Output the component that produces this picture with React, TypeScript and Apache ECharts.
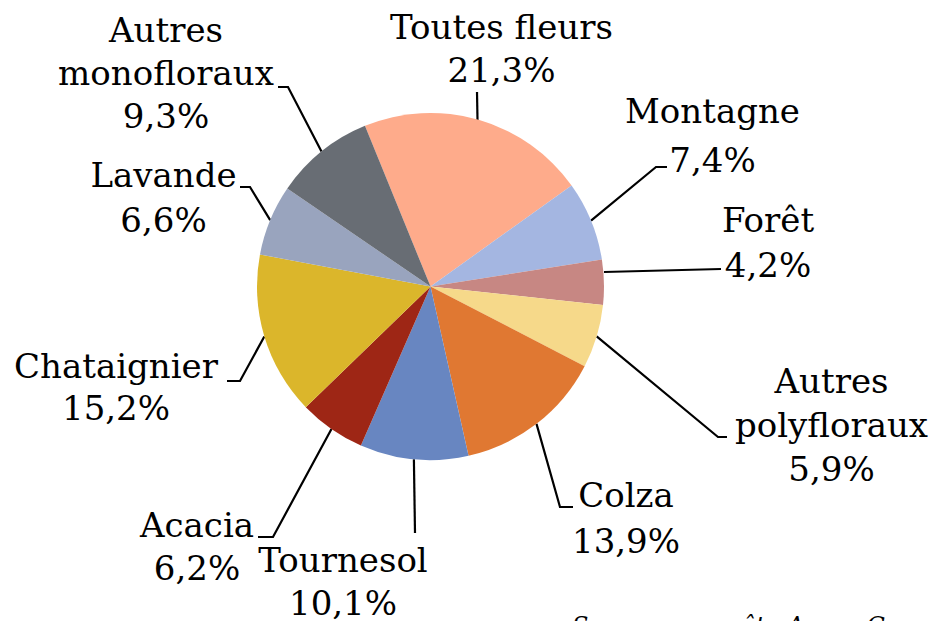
import React, { useEffect, useRef } from "react";
import * as echarts from "echarts";

// ---- Data ----
const categories = [
  "Toutes fleurs",
  "Montagne",
  "Forêt",
  "Autres polyfloraux",
  "Colza",
  "Tournesol",
  "Acacia",
  "Chataignier",
  "Lavande",
  "Autres monofloraux",
];
const shares = [21.3, 7.4, 4.2, 5.9, 13.9, 10.1, 6.2, 15.2, 6.6, 9.3];
const sliceColors = [
  "#FEAB8B",
  "#A4B6E1",
  "#C78783",
  "#F6D98A",
  "#E07832",
  "#6886C1",
  "#9E2615",
  "#DBB62B",
  "#99A4BE",
  "#686D74",
];
const sourceText = "Source : enquête Agrex Consulting";

// ---- Layout (label block centres, leader-line elbows) ----
const labelCenters: number[][] = [
  [501.5, 48.5],
  [712.5, 135.5],
  [768, 242.5],
  [831.5, 425],
  [626, 518],
  [343, 581.5],
  [197, 546.5],
  [116, 387],
  [163.5, 197.5],
  [166, 73],
];
const labelLineHeights = [42.5, 49, 45, 44, 46, 43, 43, 42, 45, 43];
const leaderElbows: number[][][] = [
  [[477, 92], [477, 92]],
  [[656, 167], [667, 167]],
  [[721, 269], [721, 269]],
  [[718, 437], [727, 437]],
  [[560, 507], [573, 507]],
  [[415, 533], [415, 533]],
  [[273, 537], [258, 537]],
  [[240, 381], [227, 381]],
  [[250, 187], [240, 187]],
  [[288, 87], [278, 87]],
];
const leaderStartOverride: (number[] | null)[] = [
  [477.5, 120],
  null,
  [604, 272],
  null,
  null,
  null,
  null,
  null,
  null,
  null,
];

const CX = 430.5;
const CY = 286.5;
const R = 173.5;
const START_ANGLE = 112.2;
const FONT = "'DejaVu Serif', serif";

function fmtPct(v: number): string {
  return v.toFixed(1).replace(".", ",") + "%";
}

export default function App() {
  const ref = useRef<HTMLDivElement>(null);

  useEffect(() => {
    if (!ref.current) return;
    const chart = echarts.init(ref.current, null, { renderer: "svg" });
    const total = shares.reduce((a, b) => a + b, 0);

    const option: any = {
      animation: false,
      backgroundColor: "#ffffff",
      series: [
        {
          type: "pie",
          center: [CX, CY],
          radius: R,
          startAngle: START_ANGLE,
          clockwise: true,
          avoidLabelOverlap: false,
          itemStyle: { borderWidth: 0 },
          emphasis: { disabled: true },
          label: {
            show: true,
            position: "outside",
            color: "#000",
            fontFamily: FONT,
            fontSize: 34,
            lineHeight: 44,
            align: "center",
            formatter: (p: any) =>
              p.name.replace("Autres ", "Autres\n") + "\n" + fmtPct(p.value),
          },
          labelLine: {
            show: true,
            length: 20,
            length2: 10,
            lineStyle: { color: "#000", width: 2.2 },
          },
          labelLayout: (params: any) => {
            const i = params.dataIndex;
            const c = labelCenters[i];
            let p0 = leaderStartOverride[i];
            if (!p0) {
              if (params.labelLinePoints && params.labelLinePoints[0]) {
                p0 = params.labelLinePoints[0];
              } else {
                let acc = 0;
                for (let k = 0; k < i; k++) acc += shares[k];
                const mid = ((acc + shares[i] / 2) / total) * 360;
                const a = ((START_ANGLE - mid) * Math.PI) / 180;
                p0 = [CX + R * Math.cos(a), CY - R * Math.sin(a)];
              }
            }
            return {
              x: c[0],
              y: c[1],
              align: "center",
              verticalAlign: "middle",
              labelLinePoints: [p0, leaderElbows[i][0], leaderElbows[i][1]],
            };
          },
          data: categories.map((name, i) => ({
            name,
            value: shares[i],
            itemStyle: { color: sliceColors[i] },
            label: { lineHeight: labelLineHeights[i] },
          })),
        },
      ],
      graphic: [
        {
          type: "text",
          left: 572,
          top: 614,
          style: {
            text: sourceText,
            fill: "#000",
            font: "italic 24px " + FONT,
          },
        },
      ],
    };
    chart.setOption(option);
    return () => chart.dispose();
  }, []);

  return (
    <div
      ref={ref}
      style={{
        position: "fixed",
        left: 0,
        top: 0,
        width: 934,
        height: 621,
        background: "#fff",
      }}
    />
  );
}
